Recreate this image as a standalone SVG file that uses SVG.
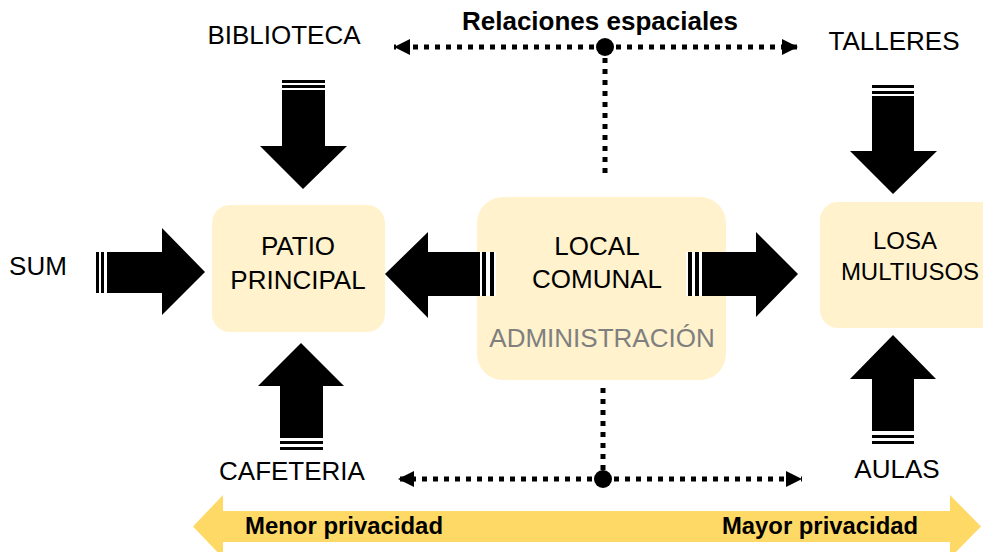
<svg xmlns="http://www.w3.org/2000/svg" width="983" height="552" viewBox="0 0 983 552">
<defs>
<style>
.box{fill:#FFF2CC;}
.lbl{font-family:"Liberation Sans",Arial,sans-serif;font-size:26px;fill:#000;text-anchor:middle;}
.bold{font-weight:bold;}
.blk{fill:#000;}
.dot{stroke:#000;stroke-width:5;stroke-dasharray:5 6;fill:none;}
</style>
<marker id="tri" viewBox="0 0 16 16" refX="16" refY="8" markerWidth="16" markerHeight="16" markerUnits="userSpaceOnUse" orient="auto">
<path d="M0,0 L16,8 L0,16 Z" fill="#000"/>
</marker>
</defs>
<rect width="983" height="552" fill="#fff"/>

<g id="patio">
<rect class="box" x="212" y="205" width="173" height="127" rx="18"/>
<text class="lbl" x="298" y="255">PATIO</text>
<text class="lbl" x="298" y="289">PRINCIPAL</text>
</g>
<g id="local">
<rect class="box" x="477" y="197" width="249" height="183" rx="26"/>
<text class="lbl" x="597" y="255">LOCAL</text>
<text class="lbl" x="597" y="288">COMUNAL</text>
<text class="lbl" x="602" y="347" style="fill:#7f7f7f">ADMINISTRACIÓN</text>
</g>
<g id="losa">
<rect class="box" x="820" y="202" width="190" height="126" rx="18"/>
<text class="lbl" x="905" y="249" style="font-size:24px">LOSA</text>
<text class="lbl" x="910" y="280" style="font-size:24px">MULTIUSOS</text>
</g>
<g id="biblioteca"><text class="lbl" x="284" y="44">BIBLIOTECA</text></g>
<g id="talleres"><text class="lbl" x="894" y="50">TALLERES</text></g>
<g id="sum"><text class="lbl" x="38" y="275">SUM</text></g>
<g id="cafeteria"><text class="lbl" x="292" y="480">CAFETERIA</text></g>
<g id="aulas"><text class="lbl" x="897" y="478">AULAS</text></g>
<g id="title"><text class="lbl bold" x="600" y="30">Relaciones espaciales</text></g>

<g id="connectors">
<!-- SUM -> patio -->
<rect x="96" y="252" width="3" height="41" class="blk"/>
<rect x="101" y="252" width="3" height="41" class="blk"/>
<polygon class="blk" points="107,252 162,252 162,228 205,272 162,315 162,293 107,293"/>
<!-- local -> patio -->
<rect x="480" y="252" width="16" height="44" fill="#fff"/>
<rect x="482" y="252" width="4" height="44" class="blk"/>
<rect x="490" y="252" width="4" height="44" class="blk"/>
<polygon class="blk" points="385,274 428,232 428,252 480,252 480,296 428,296 428,318"/>
<!-- local -> losa -->
<rect x="686" y="252" width="16" height="44" fill="#fff"/>
<rect x="688" y="252" width="4" height="44" class="blk"/>
<rect x="695" y="252" width="4" height="44" class="blk"/>
<polygon class="blk" points="702,252 756,252 756,232 798,274 756,317 756,296 702,296"/>
<!-- biblioteca -> patio -->
<rect x="282" y="80" width="43" height="3" class="blk"/>
<rect x="282" y="85" width="43" height="3" class="blk"/>
<polygon class="blk" points="282,90 325,90 325,146 347,146 303,189 260,146 282,146"/>
<!-- talleres -> losa -->
<rect x="872" y="85" width="42" height="3" class="blk"/>
<rect x="872" y="91" width="42" height="3" class="blk"/>
<polygon class="blk" points="872,96 914,96 914,151 937,151 893,194 850,151 872,151"/>
<!-- cafeteria -> patio -->
<rect x="280" y="441" width="43" height="3" class="blk"/>
<rect x="280" y="447" width="43" height="3" class="blk"/>
<polygon class="blk" points="301,343 344,386 323,386 323,438 280,438 280,386 258,386"/>
<!-- aulas -> losa -->
<rect x="872" y="435" width="42" height="3" class="blk"/>
<rect x="872" y="441" width="42" height="3" class="blk"/>
<polygon class="blk" points="893,335 936,379 914,379 914,431 872,431 872,379 850,379"/>

<!-- dotted relations top -->
<line class="dot" x1="605" y1="47" x2="394" y2="47" marker-end="url(#tri)"/>
<line class="dot" x1="605" y1="47" x2="798" y2="47" marker-end="url(#tri)"/>
<line class="dot" x1="605" y1="47" x2="605" y2="178"/>
<circle cx="605" cy="47" r="9" class="blk"/>
<!-- dotted relations bottom -->
<line class="dot" x1="603" y1="479" x2="398" y2="479" marker-end="url(#tri)"/>
<line class="dot" x1="603" y1="479" x2="802" y2="479" marker-end="url(#tri)"/>
<line class="dot" x1="603" y1="388" x2="603" y2="479"/>
<circle cx="603" cy="479" r="9" class="blk"/>
</g>

<g id="privacidad">
<polygon fill="#FFD966" points="193,526.5 223,495 223,511 950,511 950,495 981,526.5 950,558 950,542 223,542 223,558"/>
<text class="lbl bold" x="245" y="534" style="font-size:23px;text-anchor:start" textLength="198" lengthAdjust="spacingAndGlyphs">Menor privacidad</text>
<text class="lbl bold" x="722" y="534" style="font-size:23px;text-anchor:start" textLength="196" lengthAdjust="spacingAndGlyphs">Mayor privacidad</text>
</g>
</svg>
